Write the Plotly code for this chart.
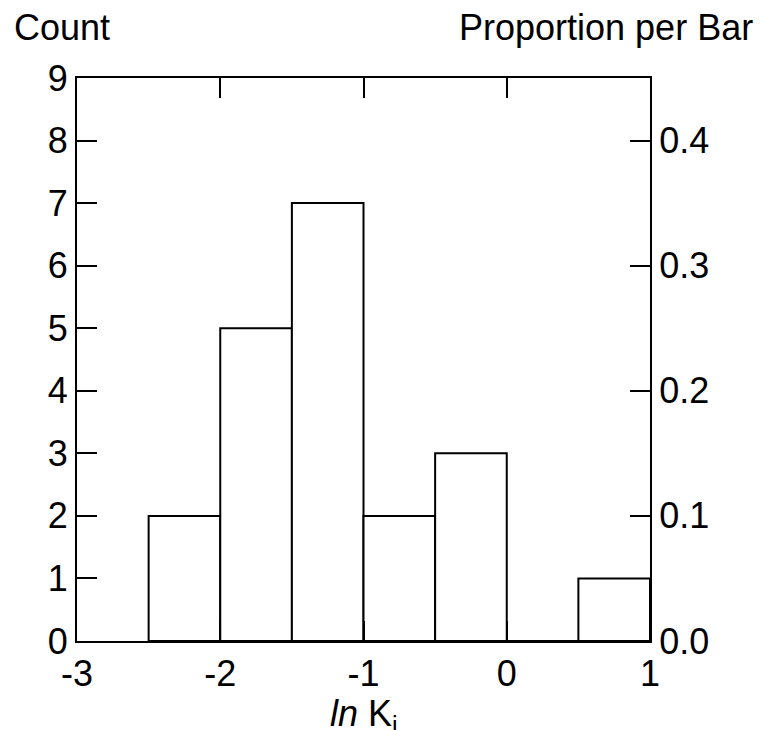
import plotly.graph_objects as go

bin_centers = [-2.25, -1.75, -1.25, -0.75, -0.25, 0.25, 0.75]
counts = [2, 5, 7, 2, 3, 0, 1]
total = sum(counts)
proportions = [c / total for c in counts]
x_ticks = [-3, -2, -1, 0, 1]
y_ticks = list(range(0, 10))
y2_ticks = [0.0, 0.1, 0.2, 0.3, 0.4]

FONT = "Liberation Sans, Arial, sans-serif"
FS = 36

fig = go.Figure()
fig.add_trace(go.Bar(
    x=bin_centers, y=counts, width=0.5,
    marker=dict(color="white", line=dict(color="black", width=2)),
    showlegend=False, hoverinfo="skip",
))
fig.add_trace(go.Scatter(
    x=bin_centers, y=proportions, yaxis="y2", mode="markers",
    marker=dict(opacity=0), showlegend=False, hoverinfo="skip",
))

fig.update_layout(
    width=766, height=730,
    margin=dict(l=77, r=116, t=78, b=89),
    plot_bgcolor="white", paper_bgcolor="white",
    font=dict(family=FONT, size=FS, color="black"),
    xaxis=dict(
        range=[-3, 1], tickvals=x_ticks, ticktext=[str(v) for v in x_ticks],
        ticks="inside", ticklen=20, tickwidth=2, tickcolor="black",
        showline=True, linecolor="black", linewidth=2, mirror="ticks",
        showgrid=False, zeroline=False, automargin=False,
    ),
    yaxis=dict(
        range=[0, 9], tickvals=y_ticks,
        ticks="inside", ticklen=20, tickwidth=2, tickcolor="black",
        showline=True, linecolor="black", linewidth=2, mirror=True,
        showgrid=False, zeroline=False, automargin=False,
    ),
    yaxis2=dict(
        range=[0, 0.45], tickvals=y2_ticks, ticktext=["%.1f" % v for v in y2_ticks],
        overlaying="y", side="right",
        ticks="inside", ticklen=20, tickwidth=2, tickcolor="black",
        showline=True, linecolor="black", linewidth=2,
        showgrid=False, zeroline=False, automargin=False,
    ),
    annotations=[
        dict(text="Count", xref="paper", yref="paper", x=0, xanchor="left",
             xshift=-65, y=1, yanchor="bottom", yshift=28, showarrow=False,
             font=dict(size=FS)),
        dict(text="Proportion per Bar", xref="paper", yref="paper", x=1, xanchor="right",
             xshift=105, y=1, yanchor="bottom", yshift=28, showarrow=False,
             font=dict(size=FS)),
        dict(text="<i>ln</i> K<sub>i</sub>", xref="paper", yref="paper", x=0.5,
             xanchor="center", y=0, yanchor="bottom", yshift=-100, showarrow=False,
             font=dict(size=FS)),
    ],
)

fig.write_html("out.html")
